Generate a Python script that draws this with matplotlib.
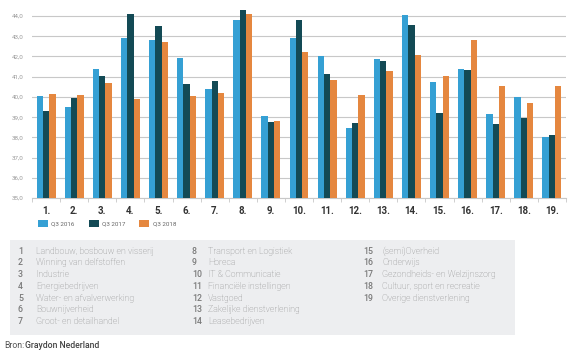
import numpy as np
import matplotlib.pyplot as plt
from matplotlib.patches import Rectangle

# waarden per sector
sectors = [f"{i}." for i in range(1, 20)]
q3_2016 = [40.04, 39.51, 41.40, 42.90, 42.80, 41.91, 40.41, 43.80, 39.05, 42.91,
           42.03, 38.46, 41.89, 44.05, 40.76, 41.37, 39.15, 39.99, 38.00]
q3_2017 = [39.28, 39.95, 41.01, 44.10, 43.51, 40.63, 40.78, 44.28, 38.75, 43.80,
           41.15, 38.72, 41.76, 43.54, 39.21, 41.32, 38.64, 38.98, 38.11]
q3_2018 = [40.13, 40.09, 40.69, 39.89, 42.73, 40.04, 40.17, 44.10, 38.82, 42.24,
           40.83, 40.07, 41.27, 42.09, 41.04, 42.82, 40.53, 39.69, 40.53]
series_labels = ['Q3 2016', 'Q3 2017', 'Q3 2018']
colors = ['#35A0D4', '#134A55', '#E5873F']

sector_names = [
    'Landbouw, bosbouw en visserij', 'Winning van delfstoffen', 'Industrie',
    'Energiebedrijven', 'Water- en afvalverwerking', 'Bouwnijverheid',
    'Groot- en detailhandel', 'Transport en Logistiek', 'Horeca',
    'IT & Communicatie', 'Financiële instellingen', 'Vastgoed',
    'Zakelijke dienstverlening', 'Leasebedrijven', '(semi)Overheid',
    'Onderwijs', 'Gezondheids- en Welzijnszorg', 'Cultuur, sport en recreatie',
    'Overige dienstverlening',
]
yticks = np.arange(35, 45, 1)

plt.rcParams['font.family'] = ['Roboto', 'DejaVu Sans']

W, H = 584, 355
fig = plt.figure(figsize=(W / 100, H / 100), dpi=100)


def fx(px):
    return px / W


def fy(py):
    return 1 - py / H


# assen: 35 op y=198, 44 op y=16
ymin, ymax = 35, 44.4
unit = (198 - 16) / 9
top_px = 198 - (ymax - ymin) * unit
ax = fig.add_axes([fx(32), fy(198), fx(566) - fx(32), fy(top_px) - fy(198)])

x = np.arange(len(sectors))
w = 0.225
for k, (vals, lab, col) in enumerate(zip([q3_2016, q3_2017, q3_2018], series_labels, colors)):
    ax.bar(x + (k - 1) * w, np.array(vals) - ymin, bottom=ymin, width=w,
           color=col, label=lab, zorder=3)

ax.set_ylim(ymin, ymax)
ax.set_xlim(-0.5, 18.5)
ax.set_yticks(yticks)
ax.set_yticklabels([f"{v:.1f}".replace('.', ',') for v in yticks])
ax.yaxis.grid(True, color='#C8C8C8', linewidth=0.8, zorder=0)
ax.tick_params(axis='y', length=0, labelsize=4.5, labelcolor='#9A9A9A', pad=6)
ax.set_xticks(x)
ax.set_xticklabels(sectors, fontsize=7, fontweight='bold', color='#333333')
ax.set_xticks(np.arange(-0.5, 19, 1), minor=True)
ax.tick_params(axis='x', which='major', length=0, pad=6)
ax.tick_params(axis='x', which='minor', length=3, color='#C8C8C8', width=0.6)
for s in ['top', 'right', 'left']:
    ax.spines[s].set_visible(False)
ax.spines['bottom'].set_color('#C8C8C8')
ax.spines['bottom'].set_linewidth(0.8)

leg = ax.legend(loc='upper left', bbox_to_anchor=(fx(32), fy(214)),
                bbox_transform=fig.transFigure, ncol=3, frameon=False,
                fontsize=4.5, handlelength=1.6, handleheight=1.4,
                columnspacing=2.2, handletextpad=0.6)
for t in leg.get_texts():
    t.set_color('#666666')

# legenda-tabel onderaan
fig.patches.append(Rectangle((fx(10), fy(335)), fx(515) - fx(10), fy(240) - fy(335),
                             transform=fig.transFigure, facecolor='#EDEEF0',
                             edgecolor='none', zorder=0))
cols_num = [18, 192, 363]
cols_lab = [36, 208, 382]
for i, name in enumerate(sector_names):
    c = 0 if i < 7 else (1 if i < 14 else 2)
    r = i - [0, 7, 14][c]
    yy = 251 + r * 11.8
    fig.text(fx(cols_num[c]), fy(yy), str(i + 1), fontsize=6.3, color='#7A7A7A',
             fontweight='medium', va='center', ha='left')
    fig.text(fx(cols_lab[c]), fy(yy), name, fontsize=6.3, color='#858585',
             fontweight='light', va='center', ha='left')

fig.text(fx(4), fy(345), 'Bron:', fontsize=6.2, color='#555555', va='center')
fig.text(fx(25), fy(345), 'Graydon Nederland', fontsize=6.2, color='#444444',
         fontweight='medium', va='center')

fig.savefig('out.png', dpi=100, facecolor='white')
